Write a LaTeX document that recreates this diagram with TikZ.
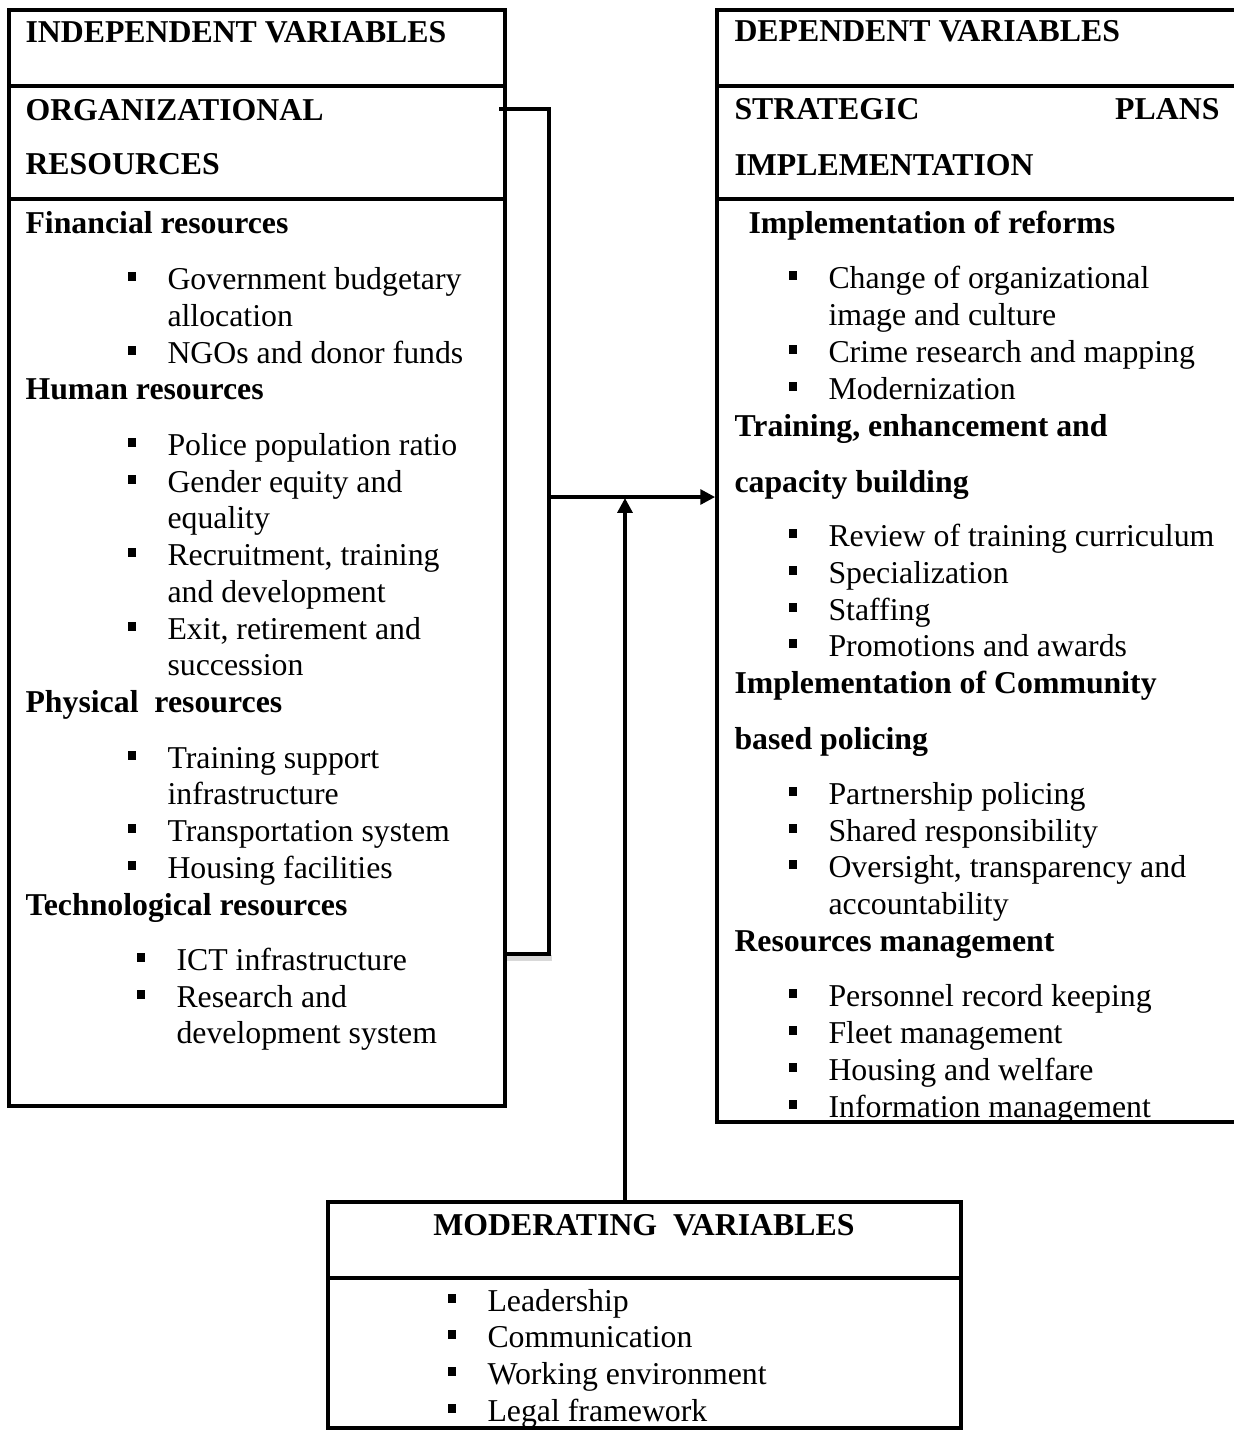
\documentclass[tikz,border=0pt]{standalone}
\usepackage{fontspec}
\setmainfont{Liberation Serif}
\usetikzlibrary{arrows.meta,fit}
\newcommand\bx{\llap{\raisebox{3.1pt}{\rule{3.2pt}{3.2pt}}\hspace{11.9pt}}}
\begin{document}
\begin{tikzpicture}[x=0.3774pt,y=-0.3774pt,
  txt/.style={anchor=base west,inner sep=0pt,font=\fontsize{12}{14}\selectfont},
  hd/.style={txt,font=\fontsize{12}{14}\selectfont\bfseries},
  frame/.style={draw,line width=1.4pt,inner sep=0pt},
  divline/.style={line width=1.4pt},
  conn/.style={line width=1.3pt},
  tipstyle/.style={-{Triangle[length=5.6pt,width=5.6pt]}}]
\clip (0,0) rectangle (1234,1431);
\fill[white] (0,0) rectangle (1234,1431);
% ---------- boxes ----------
\coordinate (lt) at (9,10);   \coordinate (lb) at (505,1106);
\coordinate (rt) at (717,10); \coordinate (rb) at (1240,1122);
\coordinate (mt) at (328,1202); \coordinate (mb) at (961,1428);
\node[frame,fit=(lt)(lb)] (lbox) {};
\node[frame,fit=(rt)(rb)] (rbox) {};
\node[frame,fit=(mt)(mb)] (mbox) {};
\draw[divline] (9,86) -- (505,86);
\draw[divline] (9,199) -- (505,199);
\draw[divline] (717,86) -- (1240,86);
\draw[divline] (717,199) -- (1240,199);
\draw[divline] (328,1278) -- (961,1278);
% ---------- left text ----------
\node[hd] (l1) at (25,42) {INDEPENDENT VARIABLES};
\node[hd] (l2) at (25,120) {ORGANIZATIONAL};
\node[hd] (l3) at (25,174) {RESOURCES};
\node[hd] (l4) at (25,233) {Financial resources};
\node[txt] (l5) at (167,289) {\bx Government budgetary};
\node[txt] (l6) at (167,326) {allocation};
\node[txt] (l7) at (167,363) {\bx NGOs and donor funds};
\node[hd] (l8) at (25,399) {Human resources};
\node[txt] (l9) at (167,455) {\bx Police population ratio};
\node[txt] (l10) at (167,492) {\bx Gender equity and};
\node[txt] (l11) at (167,528) {equality};
\node[txt] (l12) at (167,565) {\bx Recruitment, training};
\node[txt] (l13) at (167,602) {and development};
\node[txt] (l14) at (167,639) {\bx Exit, retirement and};
\node[txt] (l15) at (167,675) {succession};
\node[hd] (l16) at (25,712) {Physical\ \ resources};
\node[txt] (l17) at (167,768) {\bx Training support};
\node[txt] (l18) at (167,804) {infrastructure};
\node[txt] (l19) at (167,841) {\bx Transportation system};
\node[txt] (l20) at (167,878) {\bx Housing facilities};
\node[hd] (l21) at (25,915) {Technological resources};
\node[txt] (l22) at (176,970) {\bx ICT infrastructure};
\node[txt] (l23) at (176,1007) {\bx Research and};
\node[txt] (l24) at (176,1043) {development system};
% ---------- right text ----------
\node[hd] (r1) at (734,41) {DEPENDENT VARIABLES};
\node[hd] (r2) at (734,119) {STRATEGIC};
\node[hd,anchor=base east] (r2b) at (1220,119) {PLANS};
\node[hd] (r3) at (734,175) {IMPLEMENTATION};
\node[hd] (r4) at (748,233) {Implementation of reforms};
\node[txt] (r5) at (828,288) {\bx Change of organizational};
\node[txt] (r6) at (828,325) {image and culture};
\node[txt] (r7) at (828,362) {\bx Crime research and mapping};
\node[txt] (r8) at (828,399) {\bx Modernization};
\node[hd] (r9) at (734,436) {Training, enhancement and};
\node[hd] (r10) at (734,492) {capacity building};
\node[txt] (r11) at (828,546) {\bx Review of training curriculum};
\node[txt] (r12) at (828,583) {\bx Specialization};
\node[txt] (r13) at (828,620) {\bx Staffing};
\node[txt] (r14) at (828,656) {\bx Promotions and awards};
\node[hd] (r15) at (734,693) {Implementation of Community};
\node[hd] (r16) at (734,749) {based policing};
\node[txt] (r17) at (828,804) {\bx Partnership policing};
\node[txt] (r18) at (828,841) {\bx Shared responsibility};
\node[txt] (r19) at (828,877) {\bx Oversight, transparency and};
\node[txt] (r20) at (828,914) {accountability};
\node[hd] (r21) at (734,951) {Resources management};
\node[txt] (r22) at (828,1006) {\bx Personnel record keeping};
\node[txt] (r23) at (828,1043) {\bx Fleet management};
\node[txt] (r24) at (828,1080) {\bx Housing and welfare};
\node[txt] (r25) at (828,1117) {\bx Information management};
% ---------- moderating text ----------
\node[hd,anchor=base] (m1) at (644,1235) {MODERATING\ \ VARIABLES};
\node[txt] (m2) at (487,1311) {\bx Leadership};
\node[txt] (m3) at (487,1347) {\bx Communication};
\node[txt] (m4) at (487,1384) {\bx Working environment};
\node[txt] (m5) at (487,1421) {\bx Legal framework};
% ---------- connectors ----------
\coordinate (bs) at (499,109);
\coordinate (bk) at (549,109);
\coordinate (bc) at (549,954);
\coordinate (be) at (505,954);
\coordinate (jn) at (549,497);
\coordinate (vt) at (625,498);
\coordinate (vb) at (625,1202);
\draw[gray!30,line width=2pt] (507,958) -- (552,958);
\draw[conn] (bs) -- (bk) -- (bc) -- (be);
\draw[conn,tipstyle] (jn) -- (rbox.west |- jn);
\draw[conn,tipstyle] (vb) -- (vt);
\end{tikzpicture}
\end{document}
